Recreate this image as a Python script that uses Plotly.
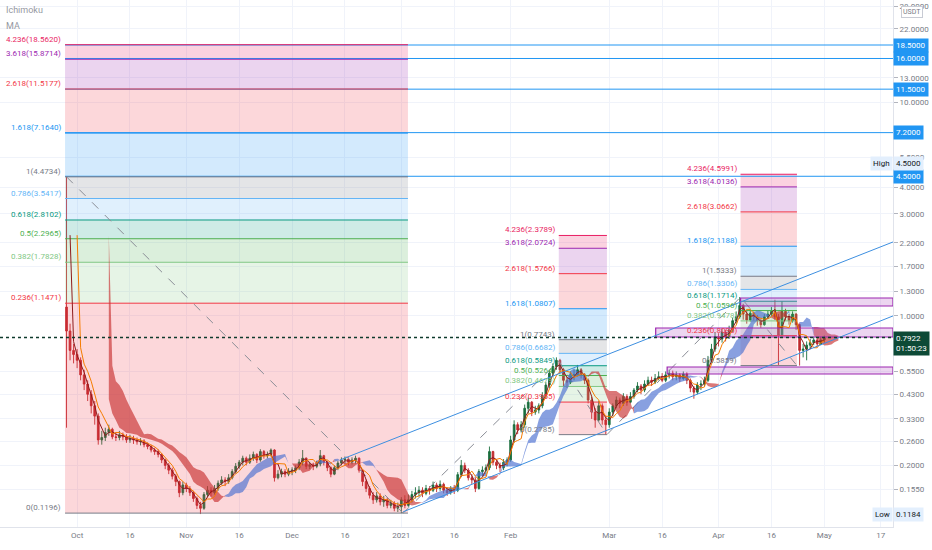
import math
import numpy as np
import pandas as pd
import plotly.graph_objects as go

# ---------------- data ----------------
START_DATE = "2020-09-28"
FIRST_OPEN = 1.10
CLOSE = [
    0.85, 0.69, 0.66, 0.62, 0.53, 0.48, 0.43, 0.38, 0.34, 0.263,
    0.27, 0.285, 0.295, 0.272, 0.27, 0.278, 0.272, 0.263, 0.267, 0.263,
    0.258, 0.26, 0.25, 0.245, 0.236, 0.232, 0.225, 0.212, 0.20, 0.19,
    0.178, 0.168, 0.149, 0.162, 0.156, 0.149, 0.140, 0.130, 0.126, 0.146,
    0.153, 0.149, 0.156, 0.165, 0.171, 0.168, 0.175, 0.187, 0.198, 0.207,
    0.216, 0.207, 0.216, 0.225, 0.212, 0.232, 0.222, 0.225, 0.236, 0.175,
    0.182, 0.187, 0.182, 0.188, 0.19, 0.195, 0.207, 0.216, 0.198, 0.20,
    0.198, 0.203, 0.222, 0.207, 0.195, 0.182, 0.195, 0.205, 0.212, 0.214,
    0.207, 0.212, 0.216, 0.19, 0.168, 0.156, 0.145, 0.138, 0.144, 0.135,
    0.138, 0.130, 0.133, 0.126, 0.128, 0.138, 0.130, 0.138, 0.146, 0.149,
    0.153, 0.148, 0.156, 0.153, 0.162, 0.156, 0.163, 0.153, 0.149, 0.156,
    0.153, 0.181, 0.20, 0.19, 0.175, 0.171, 0.156, 0.187, 0.19, 0.195,
    0.232, 0.207, 0.20, 0.195, 0.207, 0.212, 0.263, 0.31, 0.293, 0.31,
    0.37, 0.395, 0.355, 0.363, 0.38, 0.425, 0.475, 0.54, 0.58, 0.62,
    0.56, 0.50, 0.49, 0.53, 0.53, 0.56, 0.53, 0.50, 0.404, 0.355,
    0.326, 0.38, 0.326, 0.31, 0.355, 0.38, 0.404, 0.39, 0.42, 0.395,
    0.42, 0.45, 0.47, 0.45, 0.48, 0.50, 0.49, 0.51, 0.52, 0.50,
    0.53, 0.54, 0.52, 0.53, 0.51, 0.535, 0.50, 0.46, 0.44, 0.475,
    0.48, 0.50, 0.62, 0.70, 0.80, 0.78, 0.84, 0.80, 0.86, 0.95,
    0.99, 1.12, 1.02, 0.957, 1.03, 0.99, 0.95, 0.91, 0.99, 1.02,
    1.05, 0.99, 0.81, 1.05, 0.99, 0.95, 1.02, 0.91, 0.69, 0.70,
    0.73, 0.75, 0.772, 0.74, 0.772, 0.7922,
]
HIGH = [
    4.4734, 0.92, 0.74, 0.70, 0.64, 0.56, 0.50, 0.45, 0.40, 0.35,
    0.29, 0.30, 0.31, 0.30, 0.285, 0.29, 0.285, 0.28, 0.278, 0.275,
    0.27, 0.268, 0.265, 0.256, 0.25, 0.242, 0.238, 0.228, 0.215, 0.205,
    0.195, 0.182, 0.170, 0.168, 0.166, 0.160, 0.152, 0.143, 0.135, 0.150,
    0.160, 0.158, 0.162, 0.170, 0.178, 0.176, 0.182, 0.192, 0.205, 0.212,
    0.222, 0.220, 0.225, 0.232, 0.228, 0.238, 0.236, 0.232, 0.240, 0.238,
    0.190, 0.193, 0.192, 0.194, 0.196, 0.20, 0.214, 0.236, 0.218, 0.208,
    0.206, 0.210, 0.236, 0.224, 0.210, 0.198, 0.200, 0.210, 0.218, 0.220,
    0.218, 0.218, 0.222, 0.218, 0.192, 0.172, 0.160, 0.150, 0.150, 0.148,
    0.144, 0.142, 0.138, 0.136, 0.134, 0.142, 0.145, 0.146, 0.152, 0.158,
    0.160, 0.158, 0.162, 0.160, 0.168, 0.166, 0.170, 0.166, 0.158, 0.160,
    0.162, 0.186, 0.212, 0.206, 0.194, 0.182, 0.176, 0.192, 0.198, 0.202,
    0.245, 0.234, 0.212, 0.206, 0.214, 0.218, 0.275, 0.325, 0.318, 0.322,
    0.385, 0.415, 0.40, 0.38, 0.39, 0.44, 0.49, 0.56, 0.60, 0.64,
    0.63, 0.57, 0.52, 0.55, 0.56, 0.59, 0.57, 0.54, 0.51, 0.42,
    0.37, 0.40, 0.39, 0.34, 0.37, 0.39, 0.42, 0.415, 0.435, 0.43,
    0.44, 0.46, 0.49, 0.48, 0.50, 0.52, 0.52, 0.535, 0.55, 0.54,
    0.55, 0.56, 0.555, 0.55, 0.54, 0.55, 0.545, 0.51, 0.47, 0.49,
    0.50, 0.52, 0.65, 0.74, 0.84, 0.83, 0.87, 0.86, 0.90, 0.98,
    1.05, 1.2259, 1.14, 1.06, 1.07, 1.05, 1.01, 0.97, 1.02, 1.06,
    1.10, 1.19, 1.02, 1.17, 1.08, 1.02, 1.05, 1.03, 0.92, 0.74,
    0.76, 0.78, 0.80, 0.79, 0.80, 0.81,
]
LOW = [
    0.30, 0.62, 0.60, 0.57, 0.50, 0.45, 0.40, 0.35, 0.31, 0.25,
    0.25, 0.26, 0.275, 0.265, 0.26, 0.262, 0.262, 0.255, 0.255, 0.252,
    0.25, 0.248, 0.243, 0.238, 0.23, 0.224, 0.218, 0.205, 0.192, 0.182,
    0.172, 0.160, 0.142, 0.145, 0.150, 0.144, 0.135, 0.125, 0.1184, 0.124,
    0.142, 0.143, 0.146, 0.152, 0.162, 0.160, 0.164, 0.172, 0.183, 0.193,
    0.200, 0.200, 0.203, 0.210, 0.205, 0.208, 0.215, 0.216, 0.220, 0.168,
    0.172, 0.176, 0.176, 0.178, 0.180, 0.184, 0.190, 0.200, 0.192, 0.192,
    0.190, 0.194, 0.198, 0.200, 0.188, 0.176, 0.180, 0.190, 0.200, 0.204,
    0.200, 0.202, 0.204, 0.185, 0.160, 0.150, 0.140, 0.132, 0.134, 0.130,
    0.128, 0.126, 0.126, 0.122, 0.121, 0.1196, 0.126, 0.128, 0.134, 0.140,
    0.143, 0.142, 0.145, 0.146, 0.150, 0.150, 0.152, 0.148, 0.144, 0.146,
    0.147, 0.150, 0.176, 0.184, 0.170, 0.164, 0.150, 0.154, 0.178, 0.182,
    0.190, 0.200, 0.192, 0.186, 0.190, 0.198, 0.208, 0.255, 0.280, 0.285,
    0.30, 0.35, 0.34, 0.345, 0.35, 0.37, 0.41, 0.46, 0.52, 0.56,
    0.54, 0.47, 0.46, 0.48, 0.50, 0.52, 0.51, 0.48, 0.39, 0.33,
    0.30, 0.32, 0.31, 0.2785, 0.30, 0.34, 0.37, 0.37, 0.38, 0.38,
    0.39, 0.41, 0.44, 0.43, 0.44, 0.47, 0.47, 0.48, 0.50, 0.49,
    0.49, 0.51, 0.50, 0.50, 0.49, 0.50, 0.48, 0.44, 0.41, 0.43,
    0.45, 0.47, 0.49, 0.60, 0.68, 0.72, 0.75, 0.76, 0.78, 0.84,
    0.92, 0.97, 0.96, 0.92, 0.94, 0.95, 0.90, 0.88, 0.90, 0.97,
    1.00, 0.96, 0.59, 0.80, 0.95, 0.91, 0.93, 0.86, 0.5859, 0.64,
    0.62, 0.70, 0.73, 0.72, 0.73, 0.75,
]

X_TICK_DATES = ["2020-10-01", "2020-10-16", "2020-11-01", "2020-11-16", "2020-12-01",
                "2020-12-16", "2021-01-01", "2021-01-16", "2021-02-01", "2021-03-01",
                "2021-03-16", "2021-04-01", "2021-04-16", "2021-05-01", "2021-05-17"]
X_TICK_TEXT = ["Oct", "16", "Nov", "16", "Dec", "16", "2021", "16", "Feb", "Mar",
               "16", "Apr", "16", "May", "17"]
Y_TICK_VALUES = [0.155, 0.2, 0.26, 0.33, 0.43, 0.55, 1.0, 1.3, 1.7, 2.2, 3.0, 4.0,
                 5.5, 10.0, 13.0, 22.0, 28.0]

FIB_RATIOS = ["0", "0.236", "0.382", "0.5", "0.618", "0.786", "1", "1.618", "2.618", "3.618", "4.236"]
FIB_BIG_PRICES = [0.1196, 1.1471, 1.7828, 2.2965, 2.8102, 3.5417, 4.4734, 7.1640, 11.5177, 15.8714, 18.5620]
FIB_MID_PRICES = [0.2785, 0.3955, 0.4679, 0.5264, 0.5849, 0.6682, 0.7743, 1.0807, 1.5766, 2.0724, 2.3789]
FIB_RIGHT_PRICES = [0.5859, 0.8095, 0.9478, 1.0596, 1.1714, 1.3306, 1.5333, 2.1188, 3.0662, 4.0136, 4.5991]

H_LEVELS = [18.5, 16.0, 11.5, 7.2, 4.5]
ZONE_LOWS = [0.797, 1.113, 0.535]
ZONE_HIGHS = [0.878, 1.213, 0.577]
LAST_PRICE = 0.7922
HIGH_VALUE = 4.5
LOW_VALUE = 0.1184

TREND_BIG = [4.4734, 0.1196]
TREND_MID = [0.1196, 0.615, 0.2785]
TREND_RIGHT = [0.2785, 1.2259, 0.5859]
CHANNEL_LOWER = [0.1213, 1.0]
CHANNEL_UPPER = [0.212, 2.218]

# ---------------- positions / styles ----------------
X_START, X_END = "2020-09-09 03:00", "2021-05-20 12:00"
FIB_BIG_SPAN = ("2020-09-27 14:00", "2021-01-02 21:00")
FIB_MID_SPAN = ("2021-02-14 16:00", "2021-02-28 08:00")
FIB_RIGHT_SPAN = ("2021-04-07 06:00", "2021-04-23 06:00")
ZONE_STARTS = ["2021-03-14 04:00", "2021-04-07 06:00", "2021-03-17 10:00"]
TREND_BIG_X = ["2020-09-28 00:00", "2021-01-01 12:00"]
TREND_MID_X = ["2021-01-01 12:00", "2021-02-14 16:00", "2021-02-28 08:00"]
TREND_RIGHT_X = ["2021-02-28 08:00", "2021-04-07 06:00", "2021-04-23 06:00"]
CHANNEL_LOWER_X = ["2021-01-01 12:00", X_END]
CHANNEL_UPPER_X = ["2020-12-14 14:00", X_END]

FIB_COLORS = ["#787B86", "#F23645", "#81C784", "#4CAF50", "#089981", "#64B5F6",
              "#787B86", "#2196F3", "#F23645", "#9C27B0", "#E91E63"]
FONT = "Roboto"
GRAY = "#787b86"
BLUE = "#2196F3"


def rgba(hexc, a):
    hexc = hexc.lstrip("#")
    r, g, b = int(hexc[0:2], 16), int(hexc[2:4], 16), int(hexc[4:6], 16)
    return f"rgba({r},{g},{b},{a})"


dates = pd.date_range(START_DATE, periods=len(CLOSE), freq="D")
opens = [FIRST_OPEN] + CLOSE[:-1]

# Ichimoku (periods scaled from 4h to daily bars)
TENKAN_N, KIJUN_N, SPANB_N, SHIFT = 2, 4, 9, 4
hs, ls = pd.Series(HIGH), pd.Series(LOW)


def mid(n):
    return (hs.rolling(n).max() + ls.rolling(n).min()) / 2


tenkan = mid(TENKAN_N)
kijun = mid(KIJUN_N)
span_a = ((tenkan + kijun) / 2).values
span_b = mid(SPANB_N).values
cloud_dates = dates + pd.Timedelta(days=SHIFT)

fig = go.Figure()
annotations = []


def poly(xs, ys, fillcolor):
    fig.add_trace(go.Scatter(x=xs, y=ys, mode="lines", fill="toself", fillcolor=fillcolor,
                             line=dict(width=0, color=fillcolor), hoverinfo="skip"))


def line(xs, ys, color, width=1, dash="solid"):
    fig.add_trace(go.Scatter(x=xs, y=ys, mode="lines", line=dict(color=color, width=width, dash=dash),
                             hoverinfo="skip"))


FIBS = [(FIB_BIG_PRICES, FIB_BIG_SPAN), (FIB_MID_PRICES, FIB_MID_SPAN), (FIB_RIGHT_PRICES, FIB_RIGHT_SPAN)]

# fib fills
for prices, span in FIBS:
    x0, x1 = span
    for k in range(1, len(prices)):
        poly([x0, x1, x1, x0, x0], [prices[k - 1], prices[k - 1], prices[k], prices[k], prices[k - 1]],
             rgba(FIB_COLORS[k], 0.2))

# horizontal blue levels
for v in H_LEVELS:
    line([FIB_BIG_SPAN[0], X_END], [v, v], BLUE, 1)

# fib level lines + labels
for prices, span in FIBS:
    x0, x1 = span
    for k, p in enumerate(prices):
        line([x0, x1], [p, p], FIB_COLORS[k], 1)
        annotations.append(dict(x=x0, y=math.log10(p), xref="x", yref="y", xanchor="right",
                                yanchor="bottom", xshift=-2, yshift=-1, showarrow=False,
                                text=f"{FIB_RATIOS[k]}({p:.4f})",
                                font=dict(family=FONT, size=8, color=FIB_COLORS[k])))

# dashed trend lines of fib tools
line(TREND_BIG_X, TREND_BIG, "#8a8d96", 1, "dash")
line(TREND_MID_X, TREND_MID, "#8a8d96", 1, "dash")
line(TREND_RIGHT_X, TREND_RIGHT, "#8a8d96", 1, "dash")

# Ichimoku cloud
valid = ~np.isnan(span_a) & ~np.isnan(span_b)
bull = span_a >= span_b
n = len(span_a)
i = 0
while i < n:
    if not valid[i]:
        i += 1
        continue
    j = i
    while j + 1 < n and valid[j + 1] and bull[j + 1] == bull[i]:
        j += 1
    jj = min(j + 1, n - 1)
    xs = list(cloud_dates[i:jj + 1]) + list(cloud_dates[i:jj + 1][::-1])
    ys = list(span_a[i:jj + 1]) + list(span_b[i:jj + 1][::-1])
    poly(xs, ys, "rgba(80,115,210,0.68)" if bull[i] else "rgba(200,50,50,0.66)")
    i = j + 1

# zones
for lo, hi, xs0 in zip(ZONE_LOWS, ZONE_HIGHS, ZONE_STARTS):
    fig.add_trace(go.Scatter(x=[xs0, X_END, X_END, xs0, xs0], y=[lo, lo, hi, hi, lo], mode="lines",
                             fill="toself", fillcolor="rgba(186,104,200,0.28)",
                             line=dict(color="#9C27B0", width=1.2), hoverinfo="skip"))

# candles
fig.add_trace(go.Candlestick(
    x=dates, open=opens, high=HIGH, low=LOW, close=CLOSE,
    increasing=dict(line=dict(color="#1b6e3e", width=0.9), fillcolor="#1b6e3e"),
    decreasing=dict(line=dict(color="#bf2a2e", width=0.9), fillcolor="#bf2a2e"),
    whiskerwidth=0, hoverinfo="skip"))

line(dates, tenkan, "#8e1b1b", 1)
line(dates, kijun, "#f57c00", 1)

# channel lines
line(CHANNEL_LOWER_X, CHANNEL_LOWER, "#3d8fe0", 1)
line(CHANNEL_UPPER_X, CHANNEL_UPPER, "#3d8fe0", 1)

# last price dotted line
line([X_START, X_END], [LAST_PRICE, LAST_PRICE], "#0e3b2c", 1.5, "dot")

# right axis labels
for v in H_LEVELS:
    annotations.append(dict(x=1, y=math.log10(v), xref="paper", yref="y", xanchor="left",
                            yanchor="middle", showarrow=False, text=f"{v:.4f}", bgcolor=BLUE,
                            borderpad=2, font=dict(family=FONT, size=8, color="white")))
annotations.append(dict(x=1, y=math.log10(5.19), xref="paper", yref="y", xanchor="right",
                        yanchor="middle", showarrow=False, text="High", bgcolor="#e3effd",
                        borderpad=2, font=dict(family=FONT, size=8, color="#131722")))
annotations.append(dict(x=1, y=math.log10(5.19), xref="paper", yref="y", xanchor="left",
                        yanchor="middle", showarrow=False, text=f"{HIGH_VALUE:.4f}", bgcolor="#e3effd",
                        borderpad=2, font=dict(family=FONT, size=8, color="#131722")))
annotations.append(dict(x=1, y=math.log10(LOW_VALUE), xref="paper", yref="y", xanchor="right",
                        yanchor="middle", showarrow=False, text="Low", bgcolor="#e3effd",
                        borderpad=2, font=dict(family=FONT, size=8, color="#131722")))
annotations.append(dict(x=1, y=math.log10(LOW_VALUE), xref="paper", yref="y", xanchor="left",
                        yanchor="middle", showarrow=False, text=f"{LOW_VALUE:.4f}", bgcolor="#e3effd",
                        borderpad=2, font=dict(family=FONT, size=8, color="#131722")))
annotations.append(dict(x=1, y=math.log10(LAST_PRICE), xref="paper", yref="y", xanchor="left",
                        yanchor="top", yshift=7, showarrow=False, align="left",
                        text=f"{LAST_PRICE:.4f}<br>01:50:23", bgcolor="#0d4a36",
                        borderpad=2, font=dict(family=FONT, size=8, color="white")))
annotations.append(dict(x=1.0213, y=0.977, xref="paper", yref="paper", xanchor="center",
                        yanchor="middle", showarrow=False, text="USDT", bgcolor="white",
                        bordercolor="#c8cbd4", borderwidth=1, borderpad=1,
                        font=dict(family=FONT, size=7, color=GRAY)))
annotations.append(dict(x=0.005, y=0.981, xref="paper", yref="paper", xanchor="left",
                        yanchor="middle", showarrow=False, text="Ichimoku",
                        font=dict(family=FONT, size=9, color="#9598a1")))
annotations.append(dict(x=0.005, y=0.951, xref="paper", yref="paper", xanchor="left",
                        yanchor="middle", showarrow=False, text="MA",
                        font=dict(family=FONT, size=9, color="#9598a1")))

fig.update_layout(
    width=932, height=550, autosize=False,
    margin=dict(l=0, r=39, t=0, b=23),
    paper_bgcolor="white", plot_bgcolor="white",
    showlegend=False, hovermode=False,
    font=dict(family=FONT, size=8, color=GRAY),
    annotations=annotations,
    xaxis=dict(type="date", range=[X_START, X_END], tickvals=X_TICK_DATES, ticktext=X_TICK_TEXT,
               showgrid=True, gridcolor="#f0f3fa", gridwidth=1, showline=True, linecolor="#e0e3eb",
               zeroline=False, tickfont=dict(family=FONT, size=8, color=GRAY),
               rangeslider=dict(visible=False), fixedrange=True),
    yaxis=dict(type="log", range=[-0.9872, 1.4777], side="right", tickvals=Y_TICK_VALUES,
               ticktext=[f"{v:.4f}" for v in Y_TICK_VALUES], ticks="outside", ticklen=4,
               tickcolor="#b2b5be", showgrid=True, gridcolor="#f0f3fa", zeroline=False,
               showline=True, linecolor="#e0e3eb",
               tickfont=dict(family=FONT, size=8, color=GRAY), fixedrange=True),
)

fig.write_html("out.html", config={"displayModeBar": False},
               post_script="document.body.style.margin='0';document.body.style.overflow='hidden';")
